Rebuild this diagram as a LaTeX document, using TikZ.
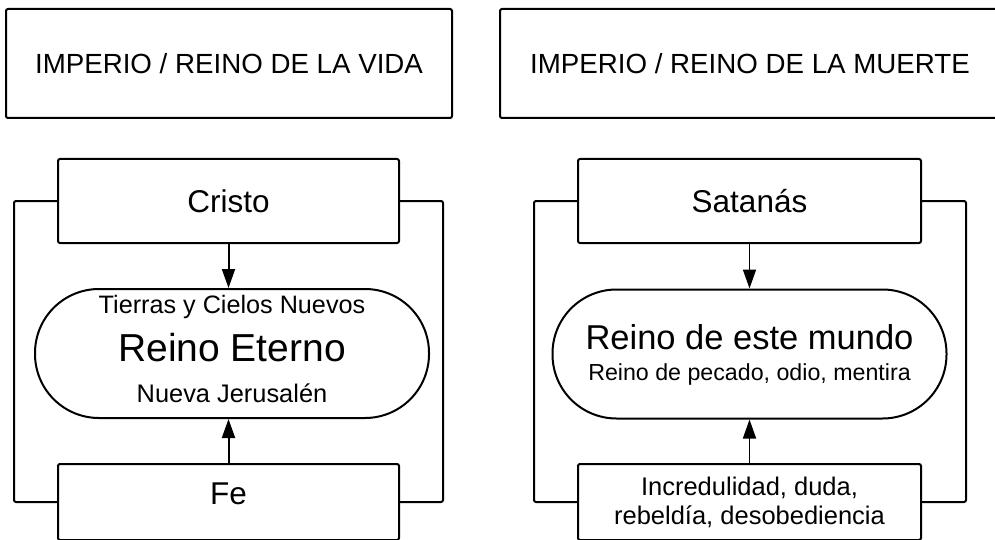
\documentclass[tikz,border=0pt]{standalone}
\usepackage{fontspec}
\setmainfont{Liberation Sans}
\usetikzlibrary{arrows.meta}

\tikzset{
  caja/.style={draw, line width=2pt, rounded corners=2pt, inner sep=0pt, align=center},
  reino/.style={draw, line width=2pt, rounded corners=64pt, inner sep=0pt,
    minimum width=394pt, minimum height=129pt},
  flecha/.style={line width=2pt, -{Triangle[length=19pt,width=13pt]}},
  marco/.style={line width=2pt, rounded corners=2pt}
}
\newcommand{\tam}[1]{\fontsize{#1}{1.2\dimexpr#1pt\relax}\selectfont}

\begin{document}
\begin{tikzpicture}[x=1pt,y=-1pt]
\useasboundingbox (0,0) rectangle (995,540);
\clip (0,0) rectangle (995,540);

% titulos
\node (vida) [caja, minimum width=446pt, minimum height=109pt] at (229,63.5)
  {\tam{27.7}IMPERIO / REINO DE LA VIDA};
\node (muerte) [caja, minimum width=500pt, minimum height=109pt] at (750,63.5)
  {\tam{27.7}IMPERIO / REINO DE LA MUERTE};

% reino de la vida
\node (cristo) [caja, minimum width=341pt, minimum height=84pt] at (228.5,201)
  {\tam{31.5}Cristo};
\node (eterno) [reino] at (232,353.5) {};
\node (tierras) at (232,307) {\tam{25.2}Tierras y Cielos Nuevos};
\node (nombre) at (232,348) {\tam{39}Reino Eterno};
\node (jerusalen) at (232,393) {\tam{25.4}Nueva Jerusalén};
\node (fe) [caja, minimum width=341pt, minimum height=76pt] at (228.5,502)
  {\tam{31.5}Fe\\[4pt]};

\draw [flecha] (cristo.south) -- (cristo.south |- eterno.north);
\draw [flecha] (fe.north) -- (fe.north |- eterno.south);
\draw [marco] (cristo.west) -- ++(-43,0) |- (fe.west);
\draw [marco] (cristo.east) -- ++(43,0) |- (fe.east);

% reino de la muerte
\node (satanas) [caja, minimum width=343pt, minimum height=84pt] at (749.5,201)
  {\tam{31.5}Satanás};
\node (mundo) [reino] at (749.5,354) {};
\node (este) at (749.5,337) {\tam{34.5}Reino de este mundo};
\node (pecado) at (749.5,374) {\tam{23.2}Reino de pecado, odio, mentira};
\node (incredulidad) [caja, minimum width=343pt, minimum height=76pt,
  font=\fontsize{25.5}{29}\selectfont] at (749.5,502)
  {Incredulidad, duda,\\rebeldía, desobediencia};

\draw [flecha, line width=1.6pt] (satanas.south) -- (satanas.south |- mundo.north);
\draw [flecha, line width=1.6pt] (incredulidad.north) -- (incredulidad.north |- mundo.south);
\draw [marco] (satanas.west) -- ++(-43,0) |- (incredulidad.west);
\draw [marco] (satanas.east) -- ++(44,0) |- (incredulidad.east);
\end{tikzpicture}
\end{document}
